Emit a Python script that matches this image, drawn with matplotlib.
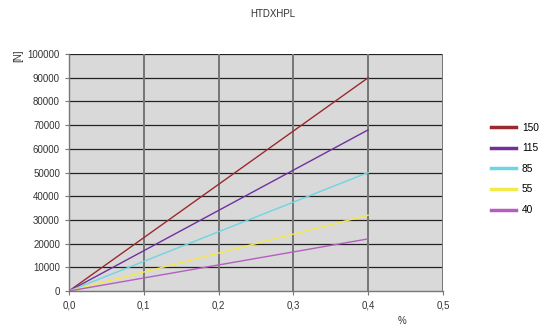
import matplotlib
matplotlib.use('Agg')

import matplotlib.pyplot as plt

# strain values (%) and force values [N] per series
strain = [0.0, 0.1, 0.2, 0.3, 0.4]
series_names = ['150', '115', '85', '55', '40']
force_150 = [0, 22500, 45000, 67500, 90000]
force_115 = [0, 17000, 34000, 51000, 68000]
force_85 = [0, 12500, 25000, 37500, 50000]
force_55 = [0, 8000, 16000, 24000, 32000]
force_40 = [0, 5500, 11000, 16500, 22000]
colors = ['#9b2a2a', '#7030a0', '#6dd5e3', '#f5e94a', '#b45fc0']

x_ticks = [0.0, 0.1, 0.2, 0.3, 0.4, 0.5]
x_labels = ['0,0', '0,1', '0,2', '0,3', '0,4', '0,5']
y_ticks = list(range(0, 100001, 10000))

plt.rcParams['font.family'] = ['Liberation Sans', 'DejaVu Sans']
plt.rcParams['font.size'] = 7

fig = plt.figure(figsize=(5.45, 3.25), dpi=100)
ax = fig.add_axes([0.1266, 0.1046, 0.686, 0.729])
ax.set_facecolor('#d9d9d9')

all_forces = [force_150, force_115, force_85, force_55, force_40]
for name, f, c in zip(series_names, all_forces, colors):
    ax.plot(strain, f, color=c, lw=1.0, label=name)

ax.set_xlim(0, 0.5)
ax.set_ylim(0, 100000)
ax.set_xticks(x_ticks)
ax.set_xticklabels(x_labels)
ax.set_yticks(y_ticks)
ax.set_yticklabels([str(v) for v in y_ticks])

# grid: dark horizontal, grey vertical
for y in y_ticks[1:]:
    ax.axhline(y, color='#222222', lw=0.9, zorder=0.5)
for x in x_ticks[1:]:
    ax.axvline(x, color='#767676', lw=1.4, zorder=0.5)

for side in ['top', 'right']:
    ax.spines[side].set_visible(False)
for side in ['left', 'bottom']:
    ax.spines[side].set_color('#777777')
    ax.spines[side].set_linewidth(1.0)
ax.tick_params(colors='#333333', length=3, width=0.8, labelsize=7)
ax.tick_params(axis='x', color='#777777')
ax.tick_params(axis='y', color='#777777')

fig.text(0.5, 0.958, 'HTDXHPL', ha='center', va='center', fontsize=7, color='#333333')
fig.text(0.033, 0.83, '[N]', ha='center', va='center', rotation=90, fontsize=7, color='#333333')
fig.text(0.738, 0.012, '%', ha='center', va='center', fontsize=7, color='#333333')

leg = fig.legend(loc='upper left', bbox_to_anchor=(0.885, 0.651), frameon=False,
                 handlelength=2.4, labelspacing=1.05, handletextpad=0.6, fontsize=7.3)
for line in leg.get_lines():
    line.set_linewidth(2.5)

fig.savefig('out.png', dpi=100)
